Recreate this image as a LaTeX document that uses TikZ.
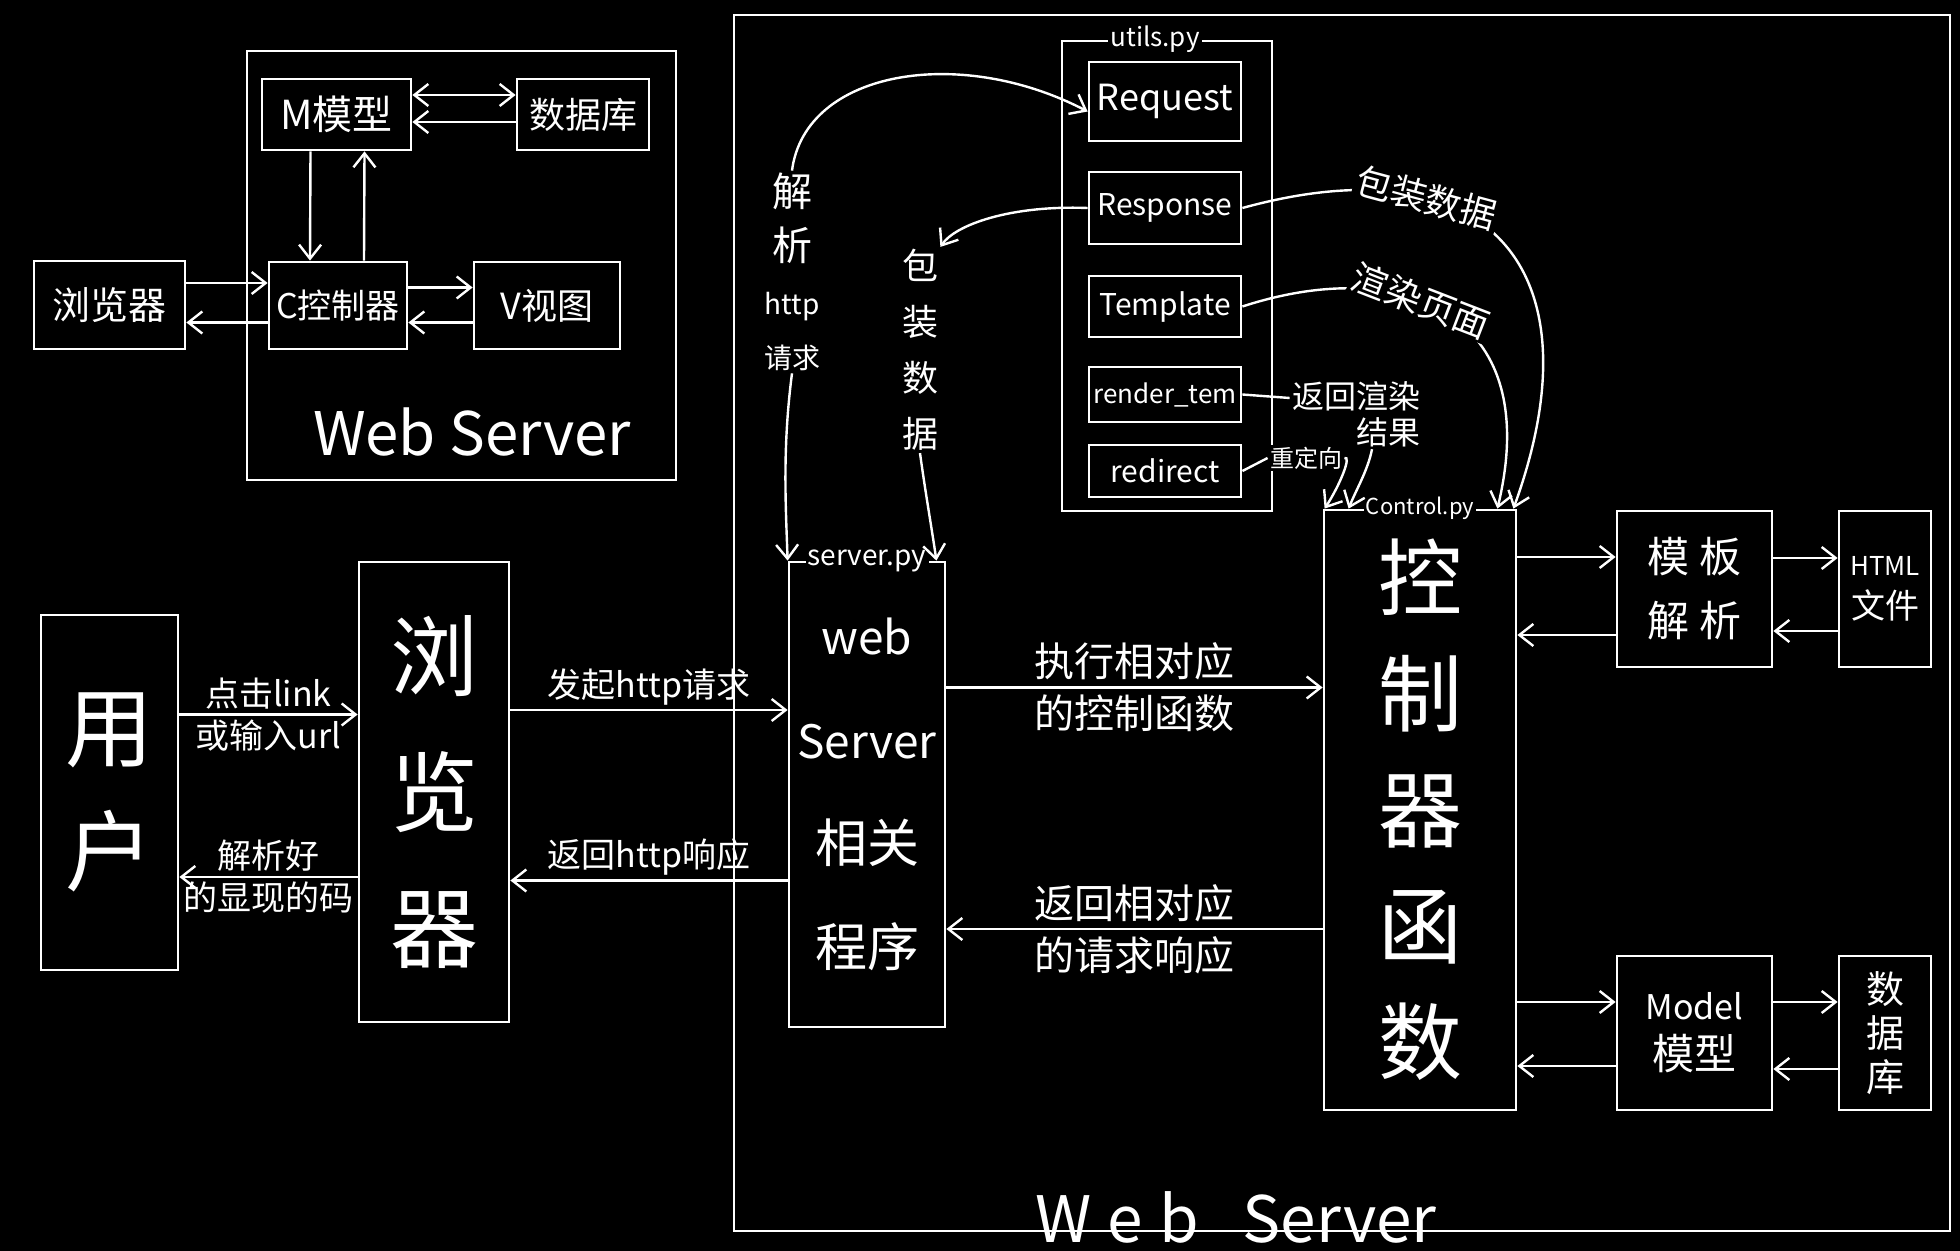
\documentclass[tikz,border=0pt]{standalone}
\usepackage{fontspec}
\setmainfont{Noto Sans CJK SC}
\usetikzlibrary{arrows.meta, positioning, calc}

\begin{document}
\begin{tikzpicture}[x=0.5pt, y=-0.5pt,
    every node/.style={text=white},
    box/.style={draw=white, line width=1.4pt, inner sep=0pt, align=center},
    wire/.style={draw=white, line width=1.2pt},
    arr/.style={wire, -{Straight Barb[length=7pt,width=11pt]}},
    arrboth/.style={wire, {Straight Barb[length=7pt,width=11pt]}-{Straight Barb[length=7pt,width=11pt]}},
    lbl/.style={inner sep=2pt, font=\fontsize{17}{20}\selectfont},
    biglbl/.style={inner sep=3pt, font=\fontsize{20}{24}\selectfont},
    tag/.style={fill=black, inner sep=1pt},
    curvelbl/.style={fill=black, inner sep=1pt, align=center}]
  \useasboundingbox (0,0) rectangle (1960,1251);
  \fill[black] (0,0) rectangle (1960,1251);

  % small MVC sketch
  \node[box, minimum width=214.5pt, minimum height=214.5pt] (mvcws) at (461.5,265.5) {};
  \node[font=\fontsize{30}{36}\selectfont] (mvcwslbl) at (472,432) {Web Server};
  \node[box, minimum width=74.5pt, minimum height=35.5pt, font=\fontsize{20}{24}\selectfont] (mmodel) at (336.5,114.5) {M模型};
  \node[box, minimum width=66pt, minimum height=35.5pt, font=\fontsize{18}{22}\selectfont] (mdb) at (583,114.5) {数据库};
  \node[box, minimum width=75.5pt, minimum height=44pt, font=\fontsize{19}{22}\selectfont] (mbrowser) at (109.5,305) {浏览器};
  \node[box, minimum width=69pt, minimum height=43.5pt, font=\fontsize{17}{22}\selectfont] (mctrl) at (338,305.5) {C控制器};
  \node[box, minimum width=73pt, minimum height=43.5pt, font=\fontsize{18}{22}\selectfont] (mview) at (547,305.5) {V视图};
  \draw[arr] ([yshift=11pt]mbrowser.east) -- ([yshift=11pt]mbrowser.east -| mctrl.west);
  \draw[arr] ([yshift=-8.5pt]mctrl.west) -- ([yshift=-8.5pt]mctrl.west -| mbrowser.east);
  \draw[arr] ([yshift=9pt]mctrl.east) -- ([yshift=9pt]mctrl.east -| mview.west);
  \draw[arr] ([yshift=-8.5pt]mview.west) -- ([yshift=-8.5pt]mview.west -| mctrl.east);
  \draw[arrboth] ([yshift=9.75pt]mmodel.east) -- ([yshift=9.75pt]mmodel.east -| mdb.west);
  \draw[arr] ([yshift=-3.75pt]mdb.west) -- ([yshift=-3.75pt]mdb.west -| mmodel.east);
  \draw[arr] ([xshift=-13pt]mmodel.south) -- ([xshift=-14pt]mctrl.north);
  \draw[arr] ([xshift=13pt]mctrl.north) -- ([xshift=14pt]mmodel.south);

  % main flow
  \node[box, minimum width=608pt, minimum height=608pt] (ws) at (1342,623) {};
  \node[font=\fontsize{32}{38}\selectfont] (wslbl) at (1236,1217) {W\hspace{8pt}e\hspace{8pt}b\hspace{22pt}Server};
  \node[box, minimum width=68.5pt, minimum height=177.5pt, font=\fontsize{44}{62}\selectfont] (user) at (109.5,792.5) {用\\户};
  \node[box, minimum width=75pt, minimum height=230pt, font=\fontsize{44}{68}\selectfont] (browser) at (434,792) {浏\\览\\器};
  \node[box, minimum width=78pt, minimum height=232.5pt, font=\fontsize{26}{52}\selectfont] (server) at (867,794.5)
    {\fontsize{23}{52}\selectfont web\\\fontsize{23}{52}\selectfont Server\\相关\\程序};
  \node[box, minimum width=96pt, minimum height=300pt, font=\fontsize{42}{58}\selectfont] (ctrl) at (1420,810) {控\\制\\器\\函\\数};
  \node[tag, font=\fontsize{14}{16}\selectfont] (serverlbl) at (server.north) {server.py};
  \node[tag, font=\fontsize{11}{13}\selectfont] (ctrllbl) at (ctrl.north) {Control.py};

  % utils.py
  \node[box, minimum width=105pt, minimum height=235pt] (utils) at (1167,276) {};
  \node[tag, font=\fontsize{13}{15}\selectfont] (utilslbl) at ([xshift=-6pt]utils.north) {utils.py};
  \node[box, minimum width=76pt, minimum height=39.5pt, font=\fontsize{18}{20}\selectfont] (request) at (1165,101.5) {Request};
  \node[box, minimum width=76pt, minimum height=36pt, font=\fontsize{15}{18}\selectfont] (response) at (1165,208) {Response};
  \node[box, minimum width=76pt, minimum height=30.5pt, font=\fontsize{15}{18}\selectfont] (template) at (1165,306.5) {Template};
  \node[box, minimum width=76pt, minimum height=27.5pt, font=\fontsize{13}{16}\selectfont] (render) at (1165,394.5) {render\_tem};
  \node[box, minimum width=76pt, minimum height=26pt, font=\fontsize{15}{18}\selectfont] (redirect) at (1165,471) {redirect};

  % template / model side
  \node[box, minimum width=77.5pt, minimum height=78pt, font=\fontsize{21}{32}\selectfont] (tpl) at (1694.5,589) {模\hspace{5pt}板\\解\hspace{5pt}析};
  \node[box, minimum width=46pt, minimum height=78pt] (html) at (1885,589) {\fontsize{13}{16}\selectfont HTML\\[6pt]\fontsize{17}{20}\selectfont 文件};
  \node[box, minimum width=77.5pt, minimum height=77pt] (model) at (1694.5,1033) {\fontsize{17}{20}\selectfont Model\\[6pt]\fontsize{21}{24}\selectfont 模型};
  \node[box, minimum width=46pt, minimum height=77pt, font=\fontsize{19}{22}\selectfont] (db) at (1885,1033) {数\\据\\库};

  % request / response connectors
  \draw[arr] ([yshift=39pt]user.east) -- ([yshift=39pt]user.east -| browser.west)
    node[lbl, above, midway] {点击link} node[lbl, below, midway] {或输入url};
  \draw[arr] ([yshift=-42.5pt]browser.west) -- ([yshift=-42.5pt]browser.west -| user.east)
    node[lbl, above, midway] {解析好} node[lbl, below, midway] {的显现的码};
  \draw[arr] ([yshift=41pt]browser.east) -- ([yshift=41pt]browser.east -| server.west)
    node[lbl, above, midway] {发起http请求};
  \draw[arr] ([yshift=-43pt]server.west) -- ([yshift=-43pt]server.west -| browser.east)
    node[lbl, above, midway] {返回http响应};
  \draw[arr] ([yshift=53.5pt]server.east) -- ([yshift=53.5pt]server.east -| ctrl.west)
    node[biglbl, above, midway] {执行相对应} node[biglbl, below, midway] {的控制函数};
  \draw[arr] ([yshift=-59.5pt]ctrl.west) -- ([yshift=-59.5pt]ctrl.west -| server.east)
    node[biglbl, above, midway] {返回相对应} node[biglbl, below, midway] {的请求响应};
  \draw[arr] ([yshift=16pt]tpl.west -| ctrl.east) -- ([yshift=16pt]tpl.west);
  \draw[arr] ([yshift=-23pt]tpl.west) -- ([yshift=-23pt]tpl.west -| ctrl.east);
  \draw[arr] ([yshift=15.5pt]tpl.east) -- ([yshift=15.5pt]tpl.east -| html.west);
  \draw[arr] ([yshift=-21pt]html.west) -- ([yshift=-21pt]html.west -| tpl.east);
  \draw[arr] ([yshift=15.5pt]model.west -| ctrl.east) -- ([yshift=15.5pt]model.west);
  \draw[arr] ([yshift=-16.5pt]model.west) -- ([yshift=-16.5pt]model.west -| ctrl.east);
  \draw[arr] ([yshift=15.5pt]model.east) -- ([yshift=15.5pt]model.east -| db.west);
  \draw[arr] ([yshift=-18pt]db.west) -- ([yshift=-18pt]db.west -| model.east);

  % curved links to utils.py
  \node[curvelbl, font=\fontsize{20}{27}\selectfont] (lblparse) at (792,272)
    {解\\析\\\fontsize{14}{27}\selectfont http\\\fontsize{14}{27}\selectfont 请求};
  \draw[arr] (lblparse.south) .. controls (782,450) and (786,510) .. (server.north west);
  \draw[arr] (lblparse.north) .. controls (805,70) and (960,45) .. ([yshift=-5pt]request.west);
  \node[curvelbl, font=\fontsize{18}{28}\selectfont] (lblpackl) at (920,350) {包\\装\\数\\据};
  \draw[arr] (response.west) .. controls (1010,205) and (955,225) .. (lblpackl.north east);
  \draw[arr] (lblpackl.south) .. controls (925,490) and (932,530) .. ([xshift=-5pt]server.north east);
  \draw[arr] (response.east) .. controls (1490,140) and (1600,270) .. ([xshift=-2pt]ctrl.north east)
    node[curvelbl, pos=0.3, sloped, font=\fontsize{18}{20}\selectfont] (lblpackr) {包装数据};
  \draw[arr] (template.east) .. controls (1400,255) and (1545,310) .. ([xshift=-10pt]ctrl.north east)
    node[curvelbl, pos=0.42, sloped, font=\fontsize{18}{20}\selectfont] (lblpage) {渲染页面};
  \node[curvelbl, align=right, font=\fontsize{16}{18}\selectfont] (lblrender) at (1356,414) {返回渲染\\结果};
  \draw[wire] (render.east) -- ([yshift=8pt]lblrender.west);
  \draw[arr] ([xshift=8pt]lblrender.south) .. controls (1368,470) and (1356,490) .. ([xshift=13pt]ctrl.north west);
  \node[curvelbl, font=\fontsize{12}{14}\selectfont] (lblredir) at (1306,458) {重定向};
  \draw[wire] (redirect.east) -- (lblredir.west);
  \draw[arr] (lblredir.east) .. controls (1352,455) and (1340,485) .. ([xshift=1pt]ctrl.north west);
\end{tikzpicture}
\end{document}
